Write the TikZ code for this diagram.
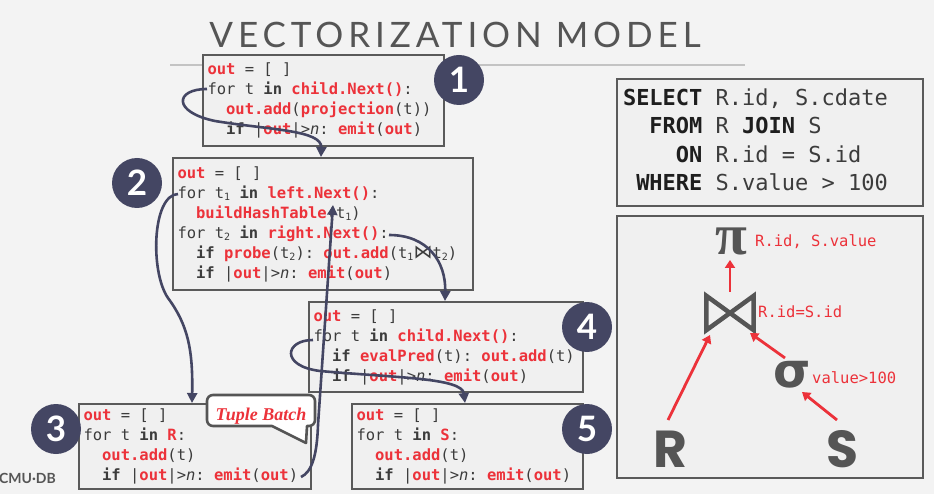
\documentclass[tikz,border=0pt]{standalone}
\usepackage{fontspec}
\setmonofont{DejaVu Sans Mono}
\setsansfont{Lato}
\newfontfamily\codefont{DejaVu Sans Mono}
\newfontfamily\titlefont[LetterSpace=14]{Lato}
\newfontfamily\serifbi{Liberation Serif}
\newfontfamily\symfont{DejaVu Sans}
\newfontfamily\symgeo{Poppins}
\usetikzlibrary{arrows.meta,calc}

\definecolor{bg}{RGB}{243,243,243}
\definecolor{boxfill}{RGB}{240,240,240}
\definecolor{boxline}{RGB}{90,90,90}
\definecolor{cred}{RGB}{236,50,58}
\definecolor{ctext}{RGB}{60,60,60}
\definecolor{navy}{RGB}{68,70,99}
\definecolor{titlegray}{RGB}{85,85,85}
\definecolor{rulegray}{RGB}{195,195,195}
\definecolor{kwblack}{RGB}{30,30,30}

\newcommand\rd[1]{\textcolor{cred}{\bfseries #1}}
\newcommand\kw[1]{{\bfseries #1}}
\newcommand\nn{\textit{n}}
\newcommand\sbs[1]{\raisebox{-0.3ex}{\fontsize{10}{10}\selectfont #1}}
\newcommand\bwt{{\symfont\fontsize{19}{19}\selectfont ⋈}}
\newcommand\ind{\phantom{ii}}
\newcommand\sk[1]{\textcolor{kwblack}{\bfseries #1}}
\newcommand\monospaces{\spaceskip=0.602em\relax\xspaceskip=0.602em\relax}

\tikzset{
  codebox/.style={draw=boxline, line width=2pt, fill=boxfill, inner xsep=4.5pt, inner ysep=0pt,
    align=left, font=\codefont\fontsize{15.5}{20}\selectfont, text=ctext},
  badge/.style={circle, fill=navy, text=white, minimum size=50pt, inner sep=0pt,
    font=\fontsize{35}{35}\selectfont\sffamily\bfseries},
  flow/.style={draw=navy, line width=2.6pt, -{Triangle[length=10pt,width=10pt]}},
  tarrow/.style={draw=cred, line width=2.8pt, -{Triangle[length=8pt,width=10pt]}},
  tlabel/.style={anchor=west, inner sep=0pt, text=cred, font=\codefont\fontsize{15.5}{15.5}\selectfont},
  tsym/.style={anchor=base, inner sep=0pt, text=titlegray},
  panel/.style={draw=boxline, line width=2pt, fill=boxfill},
}

\begin{document}
\begin{tikzpicture}[x=1pt,y=-1pt]
\fill[bg] (0,0) rectangle (934,494);
\path[use as bounding box] (0,0) rectangle (934,494);

% title and rule
\node[font=\titlefont\fontsize{35}{35}\selectfont, text=titlegray, anchor=base] (title) at (455,48) {VECTORIZATION MODEL};
\draw[rulegray, line width=2pt] (170,65) -- (745,65);

% code boxes
\node[codebox, minimum width=241pt, minimum height=91pt, text width=232pt] (box1) at (323.5,100.5) {\monospaces
\rd{out} = [ ]\\
for t \kw{in} \rd{child.Next()}:\\
\ind\rd{out.add}(\rd{projection}(t))\\
\ind\kw{if} |\rd{out}|>\nn: \rd{emit}(\rd{out})};

\node[codebox, minimum width=300pt, minimum height=132pt, text width=291pt] (box2) at (323,224) {\monospaces
\rd{out} = [ ]\\
for t\sbs{1} \kw{in} \rd{left.Next()}:\\
\ind\rd{buildHashTable}(t\sbs{1})\\
for t\sbs{2} \kw{in} \rd{right.Next()}:\\
\ind\kw{if} \rd{probe}(t\sbs{2}): \rd{out.add}(t\sbs{1}\bwt t\sbs{2})\\
\ind\kw{if} |\rd{out}|>\nn: \rd{emit}(\rd{out})};

\node[codebox, minimum width=274pt, minimum height=90pt, text width=265pt] (box4) at (446,347) {\monospaces
\rd{out} = [ ]\\
for t \kw{in} \rd{child.Next()}:\\
\ind\kw{if} \rd{evalPred}(t): \rd{out.add}(t)\\
\ind\kw{if} |\rd{out}|>\nn: \rd{emit}(\rd{out})};

\node[codebox, minimum width=232pt, minimum height=85pt, text width=223pt] (box3) at (195,446.5) {\monospaces
\rd{out} = [ ]\\
for t \kw{in} \rd{R}:\\
\ind\rd{out.add}(t)\\
\ind\kw{if} |\rd{out}|>\nn: \rd{emit}(\rd{out})};

\node[codebox, minimum width=231pt, minimum height=85pt, text width=222pt] (box5) at (467.5,446.5) {\monospaces
\rd{out} = [ ]\\
for t \kw{in} \rd{S}:\\
\ind\rd{out.add}(t)\\
\ind\kw{if} |\rd{out}|>\nn: \rd{emit}(\rd{out})};

% badges
\node[badge] (n1) at (459,80) {1};
\node[badge] (n2) at (137,183) {2};
\node[badge] (n3) at (56,429) {3};
\node[badge] (n4) at (587,327) {4};
\node[badge] (n5) at (587,429) {5};

% Tuple Batch callout
\draw[draw=titlegray, line width=2.6pt, fill=white, line join=round]
  (272,426) -- (306,443) -- (307,426)
  {[rounded corners=6pt] -- (315,426) -- (315,395) -- (207,395) -- (207,426)} -- cycle;
\node[anchor=base, inner sep=0pt, text=cred, font=\serifbi\bfseries\itshape\fontsize{18}{18}\selectfont] (tb) at (261,420) {Tuple Batch};

% SQL box
\node[panel, minimum width=306pt, minimum height=127pt, text width=294pt, inner xsep=6pt, inner ysep=0pt,
  align=left, text=ctext, font=\codefont\fontsize{22}{28.5}\selectfont] (sql) at (770,142.5) {\monospaces
\begin{tabular}{@{}r@{\hspace{0.602em}}l@{}}
\sk{SELECT} & R.id, S.cdate\\
\sk{FROM} & R \sk{JOIN} S\\
\sk{ON} & R.id = S.id\\
\sk{WHERE} & S.value > 100
\end{tabular}};

% tree panel
\node[panel, minimum width=306pt, minimum height=262pt] (tree) at (770,347) {};
\node[tsym, font=\serifbi\bfseries\fontsize{58}{58}\selectfont] (pi) at (731,255) {π};
\node[minimum width=47pt, minimum height=34pt, inner sep=0pt] (join) at (730,313) {};
\draw[titlegray, line width=4.5pt, line join=miter]
  (join.north west) -- (join.south west) -- (join.north east) -- (join.south east) -- cycle;
\node[tsym, font=\symfont\bfseries\fontsize{48}{48}\selectfont] (sigma) at (792,387) {σ};
\node[tsym, font=\symgeo\bfseries\fontsize{52}{52}\selectfont] (R) at (670,467) {R};
\node[tsym, font=\symgeo\bfseries\fontsize{52}{52}\selectfont] (S) at (842,467) {S};
\node[tlabel] (lpi) at (755,242) {R.id, S.value};
\node[tlabel] (ljoin) at (758,312) {R.id=S.id};
\node[tlabel] (lsig) at (812,378) {value>100};

\draw[tarrow] ($(join)+(0,-21)$) -- ($(pi.base)+(-1,5)$);
\draw[tarrow] ($(R.base)+(-2,-47)$) -- ($(join)+(-20,22)$);
\draw[tarrow] ($(sigma.base)+(-7,-29)$) -- ($(join)+(20,20)$);
\draw[tarrow] ($(S.base)+(-5,-47)$) -- ($(sigma.base)+(10,5)$);

% CMU-DB
\node[anchor=west, inner sep=0pt, text=titlegray, font=\sffamily\bfseries\fontsize{14}{14}\selectfont] (logo) at (-1,478) {CMU·DB};

% flow arrows
\coordinate (s1) at (207,89);
\coordinate (s2) at (178,194);
\coordinate (s3) at (301,477);
\coordinate (e3) at (333,205);
\coordinate (s4) at (389,235);
\coordinate (s5) at (313,340);

\draw[flow] (s1) .. controls (175,89) and (172,112) .. (215,121)
  .. controls (270,130) and (322,130) .. ($(box2.north west)+(149,0)$);
\draw[flow] (s2) .. controls (152,195) and (150,272) .. (168,298)
  .. controls (188,325) and (193,350) .. ($(box3.north west)+(114,0)$);
\draw[flow] (s3) .. controls (312,472) and (317,455) .. (318,425) -- (e3);
\draw[flow] (s4) .. controls (428,235) and (446,262) .. ($(box4.north west)+(137,0)$);
\draw[flow] (s5) .. controls (285,340) and (280,366) .. (320,371)
  .. controls (400,378) and (462,378) .. ($(box5.north west)+(114,0)$);
\end{tikzpicture}
\end{document}
